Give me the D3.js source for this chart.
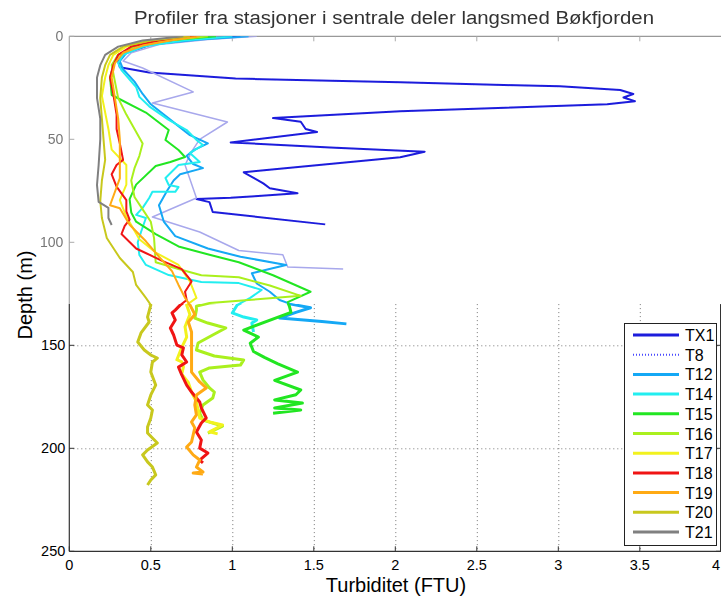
<!DOCTYPE html>
<html><head><meta charset="utf-8">
<script src="https://cdn.jsdelivr.net/npm/d3@7"></script>
<style>body{margin:0;background:#fff}svg{display:block}</style>
</head><body>
<svg id="c" width="721" height="599"></svg>
<script>
// ---- data: [turbidity FTU, depth m] ----
const TX1 = [[1.05,0],[0.75,1.5],[0.5,4],[0.35,8],[0.30,12],[0.31,15],[0.49,17.6],[1.02,20.5],[2.03,22.3],[3.01,24.3],[3.38,26.1],[3.46,28],[3.40,29.7],[3.47,31.5],[3.3,33],[2.03,36.4],[1.25,39.7],[1.42,41.5],[1.45,45],[1.52,46.5],[0.99,51.5],[1.60,54],[2.18,56],[2.03,58.7],[1.07,66],[1.19,71.4],[1.23,73.8],[1.40,76.2],[0.99,78.4],[0.78,79],[0.86,80.5],[0.88,85.3],[1.57,91.3]];
const T8 = [[1.15,0],[0.85,1.5],[0.55,4],[0.38,8],[0.33,12],[0.45,15.4],[0.76,27],[0.51,32.4],[0.97,41.6],[0.80,50],[0.75,56],[0.71,62.5],[0.78,78.5],[0.51,87.7],[0.80,95],[1.04,104],[1.31,106],[1.34,112],[1.68,113]];
const T12 = [[1.1,0],[0.8,1.5],[0.5,4],[0.35,8],[0.31,12],[0.33,16],[0.40,22],[0.45,28],[0.50,33],[0.58,38],[0.66,43],[0.74,48],[0.85,52],[0.77,55],[0.72,58],[0.76,62],[0.82,64],[0.68,67],[0.64,70],[0.60,75],[0.55,82],[0.58,90],[0.65,97],[0.85,103],[1.05,107],[1.33,111],[1.12,115],[1.15,120],[1.23,124],[1.29,128],[1.36,130],[1.48,131.8],[1.39,134],[1.29,136.8],[1.55,138.5],[1.70,139.6]];
const T14 = [[1.0,0],[0.7,2],[0.45,5],[0.33,9],[0.30,13],[0.32,16.4],[0.41,24.6],[0.43,29.4],[0.49,34],[0.61,40.6],[0.72,45.5],[0.78,50.3],[0.82,52.8],[0.74,56.6],[0.80,61],[0.67,62.5],[0.59,68.8],[0.61,72.2],[0.67,73.2],[0.65,75.5],[0.51,75.5],[0.49,78.5],[0.45,83.3],[0.41,86.7],[0.47,88.2],[0.44,95],[0.42,100],[0.43,106.2],[0.47,111],[0.61,115.9],[0.81,119.3],[1.04,119.8],[1.18,123.1],[1.11,127],[1.03,130.4],[1.00,134.3],[1.07,136.3],[1.15,137.7],[1.12,139.2],[1.13,143.5]];
const T15 = [[0.9,0],[0.6,2],[0.4,5],[0.3,9],[0.27,14],[0.25,20],[0.26,28.5],[0.47,37],[0.61,45.5],[0.59,50.3],[0.67,55.2],[0.71,58.6],[0.62,61],[0.53,63],[0.41,72],[0.37,79],[0.38,85.5],[0.41,90],[0.53,96],[0.67,102],[0.86,106],[1.04,109.7],[1.25,116],[1.48,124],[1.34,129],[1.35,131],[1.36,134],[1.07,142.6],[1.16,146],[1.11,149],[1.13,153],[1.20,156],[1.28,159],[1.40,163],[1.26,167],[1.42,171.7],[1.39,174],[1.26,176.5],[1.43,178],[1.26,180.4],[1.42,181.4],[1.25,183]];
const T16 = [[0.85,0],[0.6,2],[0.4,5],[0.3,9],[0.26,14],[0.27,18],[0.28,22],[0.30,30],[0.35,38],[0.40,45],[0.45,52],[0.43,58],[0.40,64],[0.38,70],[0.40,78],[0.45,84],[0.50,90],[0.52,98],[0.53,109.7],[0.67,113],[0.81,116],[1.04,117],[1.23,121],[1.42,126],[1.10,128],[0.86,129.5],[0.78,131],[0.78,132.9],[0.77,136.8],[0.85,139.2],[0.96,141.6],[0.88,145],[0.79,148.9],[0.78,152.3],[0.89,155.2],[1.07,157.1],[1.05,159.6],[0.86,161],[0.80,163],[0.82,166.8],[0.86,170.7],[0.89,172.7],[0.88,175.6],[0.82,179],[0.80,182.9],[0.82,186.3],[0.94,189.2],[0.85,192.6]];
const T17 = [[0.76,0],[0.5,2],[0.35,5],[0.27,9],[0.24,14],[0.22,20],[0.20,29],[0.24,45],[0.26,55],[0.35,62.5],[0.35,72],[0.31,79.5],[0.35,87.5],[0.43,98.5],[0.53,105],[0.67,111],[0.74,119],[0.78,127],[0.72,130.4],[0.74,135],[0.71,141],[0.72,146],[0.69,151],[0.66,157],[0.69,158],[0.70,160.5],[0.69,164],[0.73,168],[0.75,172.7],[0.78,177.5],[0.79,181.4],[0.80,185.3],[0.86,187.2],[0.94,188.7],[0.86,192],[0.91,193]];
const T18 = [[0.78,0],[0.55,2],[0.38,5],[0.3,9],[0.27,14],[0.25,20],[0.27,28],[0.29,38],[0.29,45],[0.31,52],[0.33,60],[0.29,62.5],[0.26,67],[0.29,73],[0.35,79.5],[0.35,85],[0.37,89],[0.34,92],[0.32,96],[0.41,103],[0.57,109],[0.69,113],[0.75,119],[0.71,124],[0.72,128],[0.68,130.5],[0.65,132.9],[0.63,134.3],[0.65,137.7],[0.62,141.6],[0.64,145],[0.66,149.9],[0.70,151.3],[0.69,154.7],[0.72,158.1],[0.67,160.6],[0.69,164.4],[0.72,169.3],[0.75,172.7],[0.80,177.5],[0.81,180.4],[0.84,185.3],[0.81,187.7],[0.78,192.1],[0.81,196],[0.80,199.9],[0.85,202.3],[0.80,205.7],[0.82,207.1]];
const T19 = [[0.80,0],[0.62,2],[0.45,4.5],[0.33,8],[0.28,13],[0.26,20],[0.28,30],[0.30,40],[0.31,50],[0.31,62.5],[0.31,69],[0.25,82],[0.31,83.5],[0.37,91.5],[0.47,99.5],[0.55,107],[0.63,114],[0.67,120.7],[0.71,127],[0.74,130.4],[0.77,135],[0.73,138.7],[0.75,143.5],[0.75,151.3],[0.75,158.1],[0.75,163],[0.80,167.8],[0.84,170.7],[0.78,174.1],[0.77,179],[0.78,183.8],[0.75,187.2],[0.77,190.1],[0.75,196.9],[0.72,199.4],[0.76,203.2],[0.80,205.7],[0.78,209.1],[0.82,211.5],[0.76,212],[0.82,212.5]];
const T20 = [[0.74,0],[0.5,2],[0.33,5],[0.25,9],[0.22,14],[0.20,20],[0.19,30],[0.20,40],[0.21,50],[0.22,60],[0.20,70],[0.19,80],[0.20,88.2],[0.23,97.9],[0.31,107.6],[0.39,114.4],[0.41,120.7],[0.47,127],[0.50,130.4],[0.48,136.3],[0.49,138.7],[0.44,144],[0.42,148.4],[0.46,152.3],[0.50,154.7],[0.54,156.2],[0.51,158.1],[0.50,163],[0.53,169.3],[0.50,174.1],[0.48,179],[0.51,181.4],[0.50,185.3],[0.48,189.7],[0.48,192.6],[0.54,197.4],[0.48,200.8],[0.45,203.2],[0.48,206.6],[0.51,209.1],[0.53,212.9],[0.50,215.4],[0.48,217.8]];
const T21 = [[0.70,0],[0.45,2],[0.3,5],[0.22,9],[0.19,14],[0.17,20],[0.17,30],[0.19,40],[0.19,50],[0.18,62.5],[0.17,72.2],[0.18,80.4],[0.24,83.3],[0.24,88.2],[0.26,91.6]];

const seriesNames = ["TX1","T8","T12","T14","T15","T16","T17","T18","T19","T20","T21"];
const seriesData = [TX1,T8,T12,T14,T15,T16,T17,T18,T19,T20,T21];
const seriesColors = ["#1c1cdc","#4a4aff","#14a8f5","#22eef0","#22e622","#aaf01e","#f2f21e","#f01414","#ffaa14","#c8c81e","#808080"];
const xTicks = [0,0.5,1,1.5,2,2.5,3,3.5,4];
const yTicks = [0,50,100,150,200,250];
const titleText = "Profiler fra stasjoner i sentrale deler langsmed Bøkfjorden";
const xLabel = "Turbiditet (FTU)";
const yLabel = "Depth (m)";

// ---- layout ----
const svg = d3.select("#c");
const x = d3.scaleLinear().domain([0,4]).range([69.3,721.3]);
const y = d3.scaleLinear().domain([0,250]).range([36.3,551.3]);
const cut = 130; // depth where the crisp lower panel begins
const yc = y(cut);
const font = "'Liberation Sans', Arial, sans-serif";

const defs = svg.append("defs");
defs.append("clipPath").attr("id","cu").append("rect").attr("x",0).attr("y",0).attr("width",721).attr("height",yc);
defs.append("clipPath").attr("id","cl").append("rect").attr("x",69.3).attr("y",yc).attr("width",652).attr("height",y(250)-yc);
defs.append("clipPath").attr("id","cp").append("rect").attr("x",69.3).attr("y",y(0)).attr("width",652).attr("height",yc-y(0));
defs.append("filter").attr("id","bl").attr("x","-5%").attr("y","-5%").attr("width","110%").attr("height","110%")
  .append("feGaussianBlur").attr("stdDeviation",0.7);

const line = d3.line().x(d=>x(d[0])).y(d=>y(d[1])).curve(d3.curveLinear);

// ---- upper (blurred) panel ----
const up = svg.append("g").attr("clip-path","url(#cu)").append("g").attr("filter","url(#bl)");
up.append("text").attr("x",394).attr("y",24).attr("text-anchor","middle")
  .attr("font-family",font).attr("font-size",18).attr("fill","#333")
  .attr("textLength",520).attr("lengthAdjust","spacingAndGlyphs").text(titleText);
up.append("line").attr("x1",x(0)).attr("x2",721).attr("y1",y(0)).attr("y2",y(0)).attr("stroke","#999").attr("stroke-width",1.2);
up.append("line").attr("x1",x(0)).attr("x2",x(0)).attr("y1",y(0)).attr("y2",yc).attr("stroke","#aaa").attr("stroke-width",1.2);
up.selectAll("line.xt").data(xTicks.slice(1,-1)).join("line").attr("class","xt")
  .attr("x1",d=>x(d)).attr("x2",d=>x(d)).attr("y1",y(0)).attr("y2",y(0)+5).attr("stroke","#aaa");
up.selectAll("line.yt").data(yTicks.filter(d=>d<cut)).join("line").attr("class","yt")
  .attr("x1",x(0)).attr("x2",x(0)+5).attr("y1",d=>y(d)).attr("y2",d=>y(d)).attr("stroke","#aaa");
up.selectAll("text.yl").data(yTicks.filter(d=>d<cut)).join("text").attr("class","yl")
  .attr("x",x(0)-6).attr("y",d=>y(d)+5).attr("text-anchor","end")
  .attr("font-family",font).attr("font-size",14).attr("fill","#777").text(d=>d);
const upLines = up.append("g").attr("clip-path","url(#cp)");
seriesData.forEach((s,i)=>{
  upLines.append("path").datum(s).attr("d",line).attr("fill","none")
    .attr("stroke", i===1 ? "#a8a8ec" : seriesColors[i])
    .attr("stroke-width", i===1 ? 1.5 : 2).attr("stroke-linejoin","round");
});

// ---- lower (crisp) panel ----
const lo = svg.append("g");
const grid = lo.append("g").attr("stroke","#777").attr("stroke-width",1).attr("stroke-dasharray","1,3");
grid.selectAll("line.gx").data(xTicks.slice(1,-1)).join("line").attr("class","gx")
  .attr("x1",d=>x(d)+0.5).attr("x2",d=>x(d)+0.5).attr("y1",yc).attr("y2",y(250));
grid.selectAll("line.gy").data(yTicks.filter(d=>d>cut && d<250)).join("line").attr("class","gy")
  .attr("x1",x(0)).attr("x2",721).attr("y1",d=>y(d)+0.5).attr("y2",d=>y(d)+0.5);

const loLines = lo.append("g").attr("clip-path","url(#cl)");
seriesData.forEach((s,i)=>{
  loLines.append("path").datum(s).attr("d",line).attr("fill","none")
    .attr("stroke",seriesColors[i]).attr("stroke-width",3)
    .attr("stroke-dasharray", i===1 ? "1.5,2" : null).attr("stroke-linejoin","round");
});

// axes frame lower
lo.append("line").attr("x1",x(0)).attr("x2",x(0)).attr("y1",yc).attr("y2",y(250)).attr("stroke","#333").attr("stroke-width",1.2);
lo.append("line").attr("x1",x(0)).attr("x2",721).attr("y1",y(250)).attr("y2",y(250)).attr("stroke","#333").attr("stroke-width",1.2);
lo.append("line").attr("x1",720.5).attr("x2",720.5).attr("y1",yc).attr("y2",y(250)).attr("stroke","#333").attr("stroke-width",1);
lo.selectAll("line.bx").data(xTicks).join("line").attr("class","bx")
  .attr("x1",d=>x(d)).attr("x2",d=>x(d)).attr("y1",y(250)).attr("y2",y(250)-5).attr("stroke","#333");
lo.selectAll("line.by").data(yTicks.filter(d=>d>cut)).join("line").attr("class","by")
  .attr("x1",x(0)).attr("x2",x(0)+5).attr("y1",d=>y(d)).attr("y2",d=>y(d)).attr("stroke","#333");
lo.selectAll("line.byr").data(yTicks.filter(d=>d>cut)).join("line").attr("class","byr")
  .attr("x1",716).attr("x2",721).attr("y1",d=>y(d)).attr("y2",d=>y(d)).attr("stroke","#333");
lo.selectAll("text.xl").data(xTicks).join("text").attr("class","xl")
  .attr("x",d=>Math.min(x(d),720)).attr("y",570).attr("text-anchor",d=>d===4?"end":"middle")
  .attr("font-family",font).attr("font-size",14.5).attr("fill","#000").text(d=>d);
lo.selectAll("text.yl2").data(yTicks.filter(d=>d>cut)).join("text").attr("class","yl2")
  .attr("x",x(0)-4).attr("y",d=>y(d)+5).attr("text-anchor","end")
  .attr("font-family",font).attr("font-size",14.5).attr("fill","#000").text(d=>d);

svg.append("text").attr("x",396).attr("y",592).attr("text-anchor","middle")
  .attr("font-family",font).attr("font-size",20).attr("fill","#000").text(xLabel);
svg.append("text").attr("transform","translate(32,295) rotate(-90)").attr("text-anchor","middle")
  .attr("font-family",font).attr("font-size",20).attr("fill","#000").text(yLabel);

// ---- legend ----
const lg = svg.append("g");
lg.append("rect").attr("x",624.5).attr("y",323.5).attr("width",92).attr("height",222)
  .attr("fill","#fff").attr("stroke","#222").attr("stroke-width",1);
seriesNames.forEach((n,i)=>{
  const yy = 335 + i*19.7;
  lg.append("line").attr("x1",633).attr("x2",679).attr("y1",yy).attr("y2",yy)
    .attr("stroke",seriesColors[i]).attr("stroke-width",i===1?2:3)
    .attr("stroke-dasharray", i===1 ? "1,2" : null);
  lg.append("text").attr("x",685).attr("y",yy+6).attr("font-family",font).attr("font-size",16)
    .attr("fill","#000").text(n);
});
</script>
</body></html>
